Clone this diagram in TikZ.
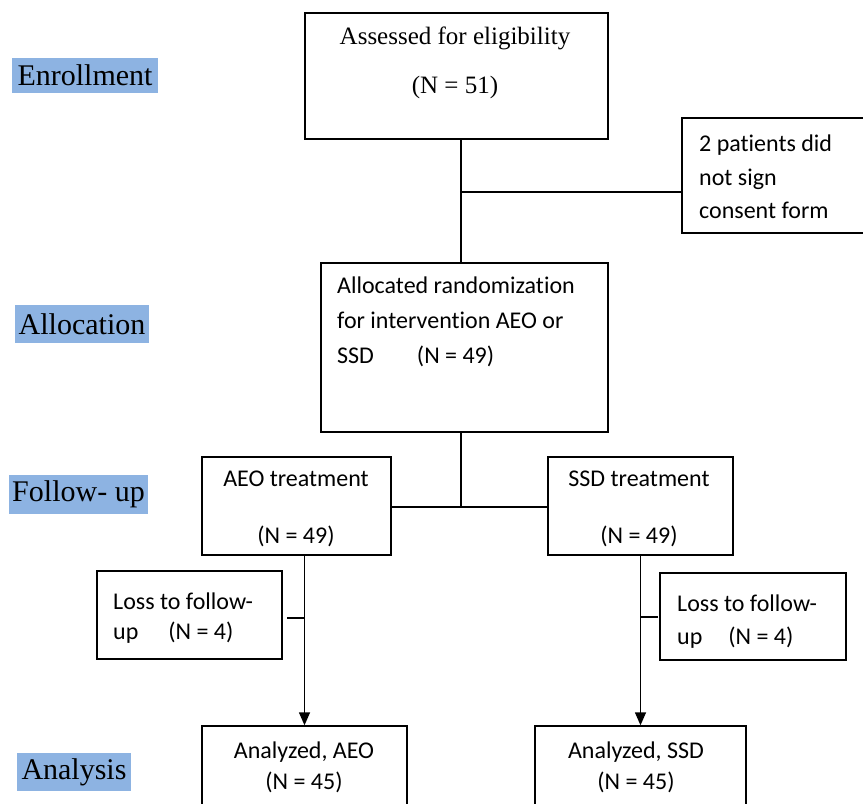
\documentclass[tikz,border=0pt]{standalone}
\usepackage{fontspec}
\setmainfont{Liberation Serif}
\newfontfamily\carl[Ligatures=NoCommon]{Carlito}
\newcommand\cfs[1]{\carl\fontsize{24}{#1}\selectfont}
\usetikzlibrary{arrows.meta}
\definecolor{lblue}{RGB}{141,179,226}
\begin{document}
\begin{tikzpicture}[x=1pt,y=-1pt,
  box/.style={draw, line width=1.4pt, inner sep=0pt},
  lab/.style={fill=lblue, inner sep=0pt, font=\fontsize{30}{36}\selectfont},
  txt/.style={inner sep=0pt},
  conn/.style={line width=1.4pt},
  arr/.style={conn, -{Triangle[width=11pt,length=13pt]}}]
\useasboundingbox (0,0) rectangle (863,804);
\clip (0,0) rectangle (863,804);

% stage labels
\node[lab, minimum width=146pt, minimum height=35pt] (enr) at (85,75.5) {Enrollment};
\node[lab, minimum width=134pt, minimum height=38pt] (alo) at (82,324) {Allocation};
\node[lab, minimum width=139pt, minimum height=39pt] (fol) at (78.5,494.5) {Follow- up};
\node[lab, minimum width=114pt, minimum height=38pt] (ana) at (74,772) {Analysis};

% boxes
\node[box, minimum width=303pt, minimum height=126pt] (A) at (456.5,76) {};
\node[txt, align=center, font=\fontsize{25}{49}\selectfont] (At) at (455,62.5) {Assessed for eligibility\\(N = 51)};

\node[box, minimum width=188pt, minimum height=115pt] (C) at (776,175.5) {};
\node[txt, align=left, anchor=west, font=\cfs{33.5}] (Ct) at (699,177) {2 patients did\\not sign\\consent form};

\node[box, minimum width=287pt, minimum height=169pt] (B) at (464.5,347.5) {};
\node[txt, align=left, anchor=west, font=\cfs{35}] (Bt) at (337,322) {Allocated randomization\\for intervention AEO or\\SSD\hspace{43pt}(N = 49)};

\node[box, minimum width=189pt, minimum height=98pt] (T1) at (296.5,506) {};
\node[txt, align=center, font=\cfs{57}] (T1t) at (296,508.5) {AEO treatment\\(N = 49)};

\node[box, minimum width=185pt, minimum height=98pt] (T2) at (640.5,506) {};
\node[txt, align=center, font=\cfs{57}] (T2t) at (639,508.5) {SSD treatment\\(N = 49)};

\node[box, minimum width=185pt, minimum height=88pt] (L1) at (189.5,615) {};
\node[txt, align=left, anchor=west, font=\cfs{30}] (L1t) at (113,618) {Loss to follow-\\up\hspace{30pt}(N = 4)};

\node[box, minimum width=186pt, minimum height=87pt] (L2) at (753,616.5) {};
\node[txt, align=left, anchor=west, font=\cfs{33}] (L2t) at (677,622) {Loss to follow-\\up\hspace{26pt}(N = 4)};

\node[box, minimum width=205pt, minimum height=104pt] (R1) at (304.5,778) {};
\node[txt, align=center, font=\cfs{31}] (R1t) at (304,767.5) {Analyzed, AEO\\(N = 45)};

\node[box, minimum width=211pt, minimum height=104pt] (R2) at (640.5,778) {};
\node[txt, align=center, font=\cfs{31}] (R2t) at (636,767.5) {Analyzed, SSD\\(N = 45)};

% connectors
\coordinate (j1) at (461,192);
\draw[conn] (j1 |- A.south) -- (j1 |- B.north);
\draw[conn] (j1) -- (j1 -| C.west);
\coordinate (j2) at (461,507);
\draw[conn] (j2 |- B.south) -- (j2);
\draw[conn] (j2 -| T1.east) -- (j2 -| T2.west);
\draw[arr] (R1.north |- T1.south) -- (R1.north);
\draw[arr] (R2.north |- T2.south) -- (R2.north);
\coordinate (s1) at (287,618);
\draw[conn] (s1) -- (s1 -| R1.north);
\coordinate (s2) at (658,617);
\draw[conn] (s2) -- (s2 -| R2.north);
\end{tikzpicture}
\end{document}
